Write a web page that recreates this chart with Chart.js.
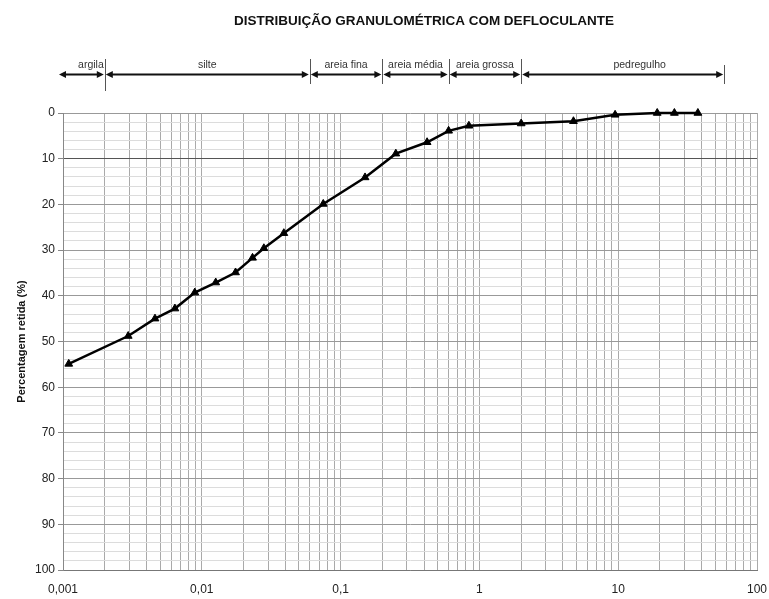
<!DOCTYPE html>
<html lang="pt">
<head>
<meta charset="utf-8">
<title>Distribuição granulométrica com defloculante</title>
<script src="https://cdn.jsdelivr.net/npm/chart.js@4.4.1/dist/chart.umd.min.js"></script>
<style>
    html, body { margin: 0; padding: 0; background: #fff; }
    #wrap { width: 769px; height: 599px; }
</style>
</head>
<body>
<div id="wrap"><canvas id="granChart" width="769" height="599"></canvas></div>
<script>
// dados (diametro em mm, percentagem retida)
const diametros = [0.0011, 0.00295, 0.0046, 0.0064, 0.0089, 0.0126, 0.0175, 0.0232, 0.028, 0.039,
                   0.075, 0.15, 0.25, 0.42, 0.6, 0.84, 2.0, 4.76, 9.5, 19.1, 25.4, 37.5];
const retida = [54.9, 48.8, 45.0, 42.8, 39.3, 37.1, 34.9, 31.7, 29.6, 26.3,
                19.9, 14.1, 8.9, 6.4, 3.9, 2.8, 2.3, 1.8, 0.4, 0, 0, 0];

// eixos
const xTicksValores = [0.001, 0.01, 0.1, 1, 10, 100];
const xTicksRotulos = ['0,001', '0,01', '0,1', '1', '10', '100'];
const yTicksValores = [0, 10, 20, 30, 40, 50, 60, 70, 80, 90, 100];

// faixas granulometricas (limites em mm)
const faixaNomes = ['argila', 'silte', 'areia fina', 'areia média', 'areia grossa', 'pedregulho'];
const faixaLimites = [0.00092, 0.002, 0.06, 0.2, 0.6, 2, 58];

const titulo = 'DISTRIBUIÇÃO GRANULOMÉTRICA COM DEFLOCULANTE';
const fonte = "'Liberation Sans', Arial, sans-serif";

// grade log: 1..9 em cada decada
function gradeLog() {
    const t = [];
    for (let e = -3; e < 2; e++) {
        for (let m = 1; m < 10; m++) {
            t.push({ value: +(m * Math.pow(10, e)).toPrecision(3) });
        }
    }
    t.push({ value: 100 });
    return t;
}

function rotuloX(v) {
    const i = xTicksValores.findIndex(t => Math.abs(t - v) / t < 1e-6);
    return i >= 0 ? xTicksRotulos[i] : '';
}

// Titulo + setas das faixas
const faixasPlugin = {
    id: 'faixas',
    afterDraw(chart) {
        const ctx = chart.ctx;
        const sx = chart.scales.x;
        ctx.save();

        ctx.fillStyle = '#111';
        ctx.font = 'bold 13.5px ' + fonte;
        ctx.textAlign = 'center';
        ctx.textBaseline = 'middle';
        ctx.fillText(titulo, 424, 21);

        const yl = 74.5;
        const px = faixaLimites.map(v => sx.getPixelForValue(v));

        ctx.strokeStyle = '#111';
        ctx.fillStyle = '#111';
        for (let i = 0; i < faixaNomes.length; i++) {
            const a = px[i] + 1, b = px[i + 1] - 1;
            ctx.lineWidth = 2;
            ctx.beginPath();
            ctx.moveTo(a + 4, yl);
            ctx.lineTo(b - 4, yl);
            ctx.stroke();
            // pontas
            ctx.beginPath();
            ctx.moveTo(a, yl); ctx.lineTo(a + 7, yl - 3.5); ctx.lineTo(a + 7, yl + 3.5);
            ctx.closePath(); ctx.fill();
            ctx.beginPath();
            ctx.moveTo(b, yl); ctx.lineTo(b - 7, yl - 3.5); ctx.lineTo(b - 7, yl + 3.5);
            ctx.closePath(); ctx.fill();
        }

        // marcas verticais nos limites
        ctx.strokeStyle = '#555';
        ctx.lineWidth = 1;
        for (let i = 1; i < px.length; i++) {
            const x = Math.round(px[i]) + 0.5;
            ctx.beginPath();
            ctx.moveTo(x, i === px.length - 1 ? 65 : 59);
            ctx.lineTo(x, i === 1 ? 91 : 84);
            ctx.stroke();
        }

        // nomes
        ctx.fillStyle = '#333';
        ctx.font = '10.5px ' + fonte;
        ctx.textBaseline = 'middle';
        faixaNomes.forEach((nome, i) => {
            if (i === 0) {
                ctx.textAlign = 'right';
                ctx.fillText(nome, px[1] - 1, 65);
                return;
            }
            ctx.textAlign = 'center';
            let cx = (px[i] + px[i + 1]) / 2;
            if (nome === 'pedregulho') cx += 17;
            ctx.fillText(nome, cx, 65);
        });
        ctx.restore();
    }
};

new Chart(document.getElementById('granChart').getContext('2d'), {
    type: 'scatter',
    data: {
        datasets: [{
            data: diametros.map((d, i) => ({ x: d, y: retida[i] })),
            showLine: true,
            borderColor: '#000',
            borderWidth: 2.5,
            tension: 0,
            pointStyle: 'triangle',
            pointRadius: 4.5,
            pointBackgroundColor: '#000',
            pointBorderColor: '#000',
            pointBorderWidth: 1,
            clip: false
        }]
    },
    options: {
        responsive: false,
        animation: false,
        events: [],
        layout: { padding: { top: 113, right: 12, left: 0, bottom: 0 } },
        plugins: {
            legend: { display: false },
            tooltip: { enabled: false }
        },
        scales: {
            x: {
                type: 'logarithmic',
                min: 0.001,
                max: 100,
                afterBuildTicks: s => { s.ticks = gradeLog(); },
                afterFit: s => { s.height = 29; s.paddingLeft = 0; s.paddingRight = 0; },
                border: { color: '#777', width: 1 },
                grid: { color: '#aaa', lineWidth: 1, drawTicks: false },
                ticks: {
                    autoSkip: false,
                    maxRotation: 0,
                    padding: 12,
                    color: '#222',
                    font: { family: fonte, size: 12 },
                    callback: v => rotuloX(v)
                }
            },
            y: {
                min: 0,
                max: 100,
                reverse: true,
                afterFit: s => { s.width = 63; s.paddingTop = 0; s.paddingBottom = 0; },
                border: { color: '#888', width: 1 },
                grid: {
                    lineWidth: 1,
                    tickLength: 5,
                    color: c => c.tick.value === 10 ? '#555' : (c.tick.value % 10 === 0 ? '#999' : '#dcdcdc'),
                    tickColor: c => (c.tick.value % 10 === 0 ? '#888' : 'rgba(0,0,0,0)')
                },
                ticks: {
                    stepSize: 2,
                    autoSkip: false,
                    padding: 3,
                    color: '#222',
                    font: { family: fonte, size: 12 },
                    callback: v => (yTicksValores.includes(v) ? String(v) : '')
                },
                title: {
                    display: true,
                    text: 'Percentagem retida (%)',
                    color: '#111',
                    font: { family: fonte, size: 11, weight: 'bold' },
                    padding: { top: 15, bottom: 0 }
                }
            }
        }
    },
    plugins: [faixasPlugin]
});
</script>
</body>
</html>
